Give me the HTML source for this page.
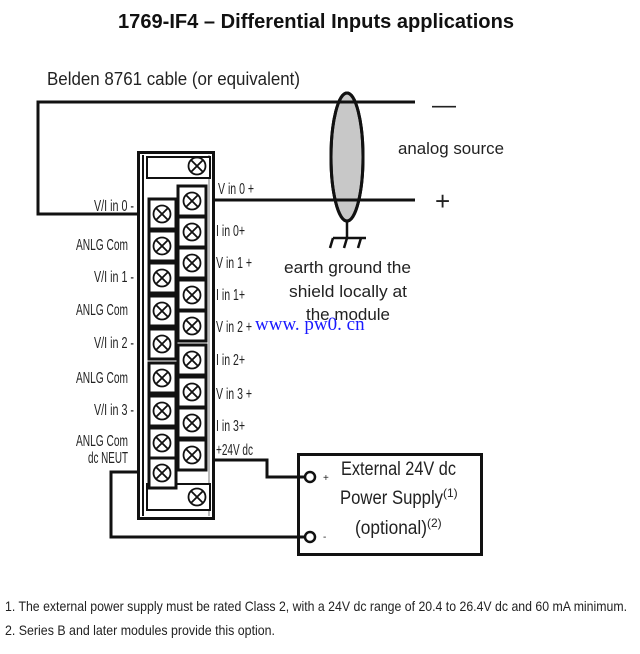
<!DOCTYPE html>
<html><head><meta charset="utf-8"><style>
html,body{margin:0;padding:0;background:#fff}
svg text{font-family:"Liberation Sans",sans-serif}
</style></head><body>
<svg width="640" height="649" viewBox="0 0 640 649" xmlns="http://www.w3.org/2000/svg" fill="#222">
<text x="118" y="28" textLength="396" lengthAdjust="spacingAndGlyphs" style="font-weight:bold;font-size:20px;fill:#111">1769-IF4 – Differential Inputs applications</text>
<text x="47" y="85" font-size="18" textLength="253" lengthAdjust="spacingAndGlyphs">Belden 8761 cable (or equivalent)</text>
<g stroke="#111" stroke-width="3" fill="none">
<polyline points="415,102 38,102 38,214 152,214"/>
<line x1="207" y1="200" x2="415" y2="200"/>
<polyline points="207,460 267,460 267,477 299,477"/>
<polyline points="152,472 111,472 111,537 299,537"/>
</g>
<ellipse cx="347" cy="157" rx="16" ry="64" fill="#c8c8c8" stroke="#111" stroke-width="3"/>
<line x1="280" y1="102" x2="415" y2="102" stroke="#111" stroke-width="3"/>
<line x1="280" y1="200" x2="415" y2="200" stroke="#111" stroke-width="3"/>
<ellipse cx="347" cy="157" rx="16" ry="64" fill="none" stroke="#111" stroke-width="3"/>
<g stroke="#111" stroke-width="2.5" fill="none">
<line x1="347" y1="221" x2="347" y2="238"/>
<line x1="333" y1="238" x2="366" y2="238"/>
<line x1="333" y1="238" x2="330" y2="248"/>
<line x1="347" y1="238" x2="344" y2="248"/>
<line x1="361" y1="238" x2="358" y2="248"/>
</g>
<text x="432" y="113" font-size="24">—</text>
<text x="398" y="154" font-size="17" textLength="106" lengthAdjust="spacingAndGlyphs">analog source</text>
<text x="435" y="210" font-size="26">+</text>
<text x="284" y="273" font-size="17" textLength="127" lengthAdjust="spacingAndGlyphs">earth ground the</text>
<text x="289" y="297" font-size="17" textLength="118" lengthAdjust="spacingAndGlyphs">shield locally at</text>
<text x="306" y="320" font-size="17" textLength="84" lengthAdjust="spacingAndGlyphs">the module</text>
<text x="255" y="330" style="font-family:'Liberation Serif',serif;font-size:19px;fill:#1a1aff">www. pw0. cn</text>
<rect x="138.5" y="152.5" width="75" height="366" fill="#fff" stroke="#111" stroke-width="3"/>
<line x1="143" y1="155" x2="143" y2="516" stroke="#111" stroke-width="2"/>
<line x1="209" y1="155" x2="209" y2="516" stroke="#777" stroke-width="1"/>
<rect x="147" y="157" width="63" height="21" fill="#fff" stroke="#111" stroke-width="2"/>
<rect x="147" y="484" width="63" height="26" fill="#fff" stroke="#111" stroke-width="2"/>
<g fill="#fff" stroke="#111" stroke-width="3">
<rect x="149" y="199" width="27" height="30"/><rect x="149" y="231" width="27" height="30"/>
<rect x="149" y="263" width="27" height="30"/><rect x="149" y="296" width="27" height="30"/>
<rect x="149" y="329" width="27" height="30"/><rect x="149" y="363" width="27" height="30"/>
<rect x="149" y="396" width="27" height="30"/><rect x="149" y="428" width="27" height="30"/>
<rect x="149" y="458" width="27" height="30"/>
<rect x="178" y="186" width="28" height="30"/><rect x="178" y="217" width="28" height="30"/>
<rect x="178" y="248" width="28" height="30"/><rect x="178" y="280" width="28" height="30"/>
<rect x="178" y="311" width="28" height="30"/><rect x="178" y="345" width="28" height="30"/>
<rect x="178" y="377" width="28" height="30"/><rect x="178" y="408" width="28" height="30"/>
<rect x="178" y="440" width="28" height="30"/>
</g>
<defs><g id="s"><circle r="8.5" fill="#fff" stroke="#111" stroke-width="1.8"/><path d="M-6,-6L6,6M6,-6L-6,6" stroke="#111" stroke-width="1.8"/></g></defs>
<use href="#s" x="197" y="166"/><use href="#s" x="197" y="497"/>
<use href="#s" x="162" y="214"/><use href="#s" x="162" y="246"/><use href="#s" x="162" y="278"/>
<use href="#s" x="162" y="311"/><use href="#s" x="162" y="344"/><use href="#s" x="162" y="378"/>
<use href="#s" x="162" y="411"/><use href="#s" x="162" y="443"/><use href="#s" x="162" y="473"/>
<use href="#s" x="192" y="201"/><use href="#s" x="192" y="232"/><use href="#s" x="192" y="263"/>
<use href="#s" x="192" y="295"/><use href="#s" x="192" y="326"/><use href="#s" x="192" y="360"/>
<use href="#s" x="192" y="392"/><use href="#s" x="192" y="423"/><use href="#s" x="192" y="455"/>
<g font-size="15.5">
<text x="94" y="211" textLength="40" lengthAdjust="spacingAndGlyphs">V/I in 0 -</text>
<text x="76" y="250" textLength="52" lengthAdjust="spacingAndGlyphs">ANLG Com</text>
<text x="94" y="282" textLength="40" lengthAdjust="spacingAndGlyphs">V/I in 1 -</text>
<text x="76" y="315" textLength="52" lengthAdjust="spacingAndGlyphs">ANLG Com</text>
<text x="94" y="348" textLength="40" lengthAdjust="spacingAndGlyphs">V/I in 2 -</text>
<text x="76" y="383" textLength="52" lengthAdjust="spacingAndGlyphs">ANLG Com</text>
<text x="94" y="415" textLength="40" lengthAdjust="spacingAndGlyphs">V/I in 3 -</text>
<text x="76" y="446" textLength="52" lengthAdjust="spacingAndGlyphs">ANLG Com</text>
<text x="88" y="463" textLength="40" lengthAdjust="spacingAndGlyphs">dc NEUT</text>
<text x="218" y="194" textLength="36" lengthAdjust="spacingAndGlyphs">V in 0 +</text>
<text x="216" y="236" textLength="29" lengthAdjust="spacingAndGlyphs">I in 0+</text>
<text x="216" y="268" textLength="36" lengthAdjust="spacingAndGlyphs">V in 1 +</text>
<text x="216" y="300" textLength="29" lengthAdjust="spacingAndGlyphs">I in 1+</text>
<text x="216" y="332" textLength="36" lengthAdjust="spacingAndGlyphs">V in 2 +</text>
<text x="216" y="365" textLength="29" lengthAdjust="spacingAndGlyphs">I in 2+</text>
<text x="216" y="399" textLength="36" lengthAdjust="spacingAndGlyphs">V in 3 +</text>
<text x="216" y="431" textLength="29" lengthAdjust="spacingAndGlyphs">I in 3+</text>
<text x="216" y="455" textLength="37" lengthAdjust="spacingAndGlyphs">+24V dc</text>
</g>
<rect x="298.5" y="454.5" width="183" height="100" fill="#fff" stroke="#111" stroke-width="3"/>
<line x1="267" y1="477" x2="305" y2="477" stroke="#111" stroke-width="3"/>
<line x1="111" y1="537" x2="305" y2="537" stroke="#111" stroke-width="3"/>
<circle cx="310" cy="477" r="5" fill="#fff" stroke="#111" stroke-width="2.5"/>
<circle cx="310" cy="537" r="5" fill="#fff" stroke="#111" stroke-width="2.5"/>
<text x="323" y="481" font-size="10">+</text>
<text x="323" y="540" font-size="10">-</text>
<text x="341" y="475" font-size="19" textLength="115" lengthAdjust="spacingAndGlyphs">External 24V dc</text>
<text x="340" y="504" font-size="19"><tspan textLength="103" lengthAdjust="spacingAndGlyphs">Power Supply</tspan><tspan font-size="12" dy="-7">(1)</tspan></text>
<text x="355" y="534" font-size="19"><tspan textLength="72" lengthAdjust="spacingAndGlyphs">(optional)</tspan><tspan font-size="12" dy="-7">(2)</tspan></text>
<text x="5" y="611" font-size="14" textLength="622" lengthAdjust="spacingAndGlyphs">1.  The external power supply must be rated Class 2, with a 24V dc range of 20.4 to 26.4V dc and 60 mA minimum.</text>
<text x="5" y="635" font-size="14" textLength="270" lengthAdjust="spacingAndGlyphs">2.  Series B and later modules provide this option.</text>
</svg>
</body></html>
